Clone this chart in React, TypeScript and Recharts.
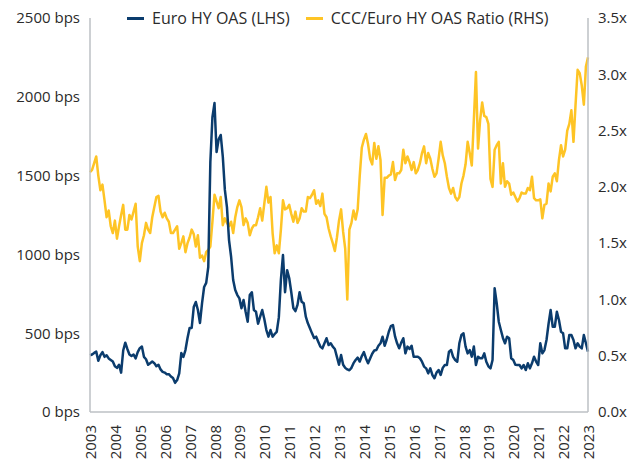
import { LineChart, Line, XAxis, YAxis } from 'recharts';

const FONT = '"Open Sans", sans-serif';
const BLUE = '#0b3c6d';
const YELLOW = '#fec425';
const AXIS_GREY = '#bcc0c4';

// monthly, Jan 2003 -> Jan 2023
const START_YEAR = 2003;

const euroHyOas = [
  360, 365, 375, 383, 325, 360, 380, 350, 360, 340,
  330, 320, 290, 280, 300, 250, 390, 440, 400, 365,
  355, 365, 340, 380, 405, 415, 350, 335, 300, 310,
  320, 310, 290, 300, 270, 255, 250, 240, 240, 225,
  215, 185, 203, 245, 374, 349, 393, 469, 533, 533,
  666, 698, 647, 565, 691, 793, 819, 920, 1586, 1870,
  1960, 1650, 1730, 1758, 1620, 1409, 1300, 1091, 985, 837,
  774, 742, 721, 658, 711, 636, 573, 742, 760, 647,
  636, 560, 605, 647, 590, 520, 478, 520, 478, 495,
  509, 600, 840, 996, 760, 900, 850, 760, 660, 640,
  680, 760, 700, 690, 605, 563, 531, 499, 469, 478,
  446, 415, 404, 436, 468, 425, 436, 415, 400, 350,
  300, 362, 300, 280, 270, 265, 280, 310, 330, 345,
  320, 355, 380, 340, 309, 340, 370, 390, 393, 420,
  436, 478, 420, 460, 509, 545, 552, 480, 436, 404,
  440, 468, 372, 415, 400, 420, 351, 351, 351, 341,
  319, 288, 277, 245, 277, 235, 214, 250, 266, 235,
  280, 298, 298, 383, 393, 350, 330, 319, 436, 489,
  499, 415, 372, 393, 351, 415, 298, 351, 341, 341,
  372, 319, 290, 277, 330, 785, 690, 573, 520, 470,
  436, 478, 468, 341, 330, 300, 298, 298, 277, 298,
  266, 309, 277, 309, 351, 320, 298, 436, 372, 393,
  457, 560, 647, 541, 541, 636, 584, 509, 499, 404,
  404, 489, 489, 457, 404, 436, 415, 404, 489, 436, 383,
];

const cccRatio = [
  2.13, 2.15, 2.21, 2.27, 2.10, 1.97, 2.02, 1.88, 1.73, 1.79,
  1.65, 1.59, 1.70, 1.54, 1.65, 1.75, 1.84, 1.62, 1.62, 1.75,
  1.71, 1.78, 1.85, 1.47, 1.34, 1.50, 1.57, 1.68, 1.62, 1.59,
  1.73, 1.82, 1.91, 1.92, 1.78, 1.73, 1.77, 1.72, 1.69, 1.59,
  1.59, 1.62, 1.65, 1.45, 1.50, 1.56, 1.42, 1.50, 1.55, 1.62,
  1.58, 1.47, 1.57, 1.37, 1.39, 1.34, 1.42, 1.44, 1.47, 1.69,
  1.93, 1.87, 1.81, 1.91, 1.66, 1.72, 1.68, 1.65, 1.69, 1.59,
  1.73, 1.82, 1.88, 1.82, 1.66, 1.72, 1.68, 1.57, 1.63, 1.66,
  1.66, 1.73, 1.81, 1.70, 1.85, 2.00, 1.86, 1.91, 1.59, 1.41,
  1.48, 1.41, 1.62, 1.88, 1.80, 1.81, 1.84, 1.76, 1.69, 1.78,
  1.68, 1.72, 1.81, 1.78, 1.78, 1.91, 1.90, 1.93, 1.97, 1.85,
  1.88, 1.83, 1.94, 1.76, 1.73, 1.63, 1.56, 1.50, 1.43, 1.55,
  1.70, 1.80, 1.60, 1.45, 1.00, 1.62, 1.68, 1.79, 1.71, 1.80,
  2.10, 2.35, 2.42, 2.47, 2.38, 2.25, 2.20, 2.39, 2.25, 2.36,
  2.24, 1.75, 2.08, 2.08, 2.10, 2.11, 2.22, 2.06, 2.12, 2.12,
  2.15, 2.33, 2.21, 2.27, 2.22, 2.15, 2.22, 2.12, 2.15, 2.21,
  2.30, 2.36, 2.21, 2.30, 2.25, 2.16, 2.09, 2.12, 2.25, 2.40,
  2.28, 2.21, 2.09, 1.99, 1.94, 1.99, 1.91, 1.88, 1.91, 2.03,
  2.10, 2.20, 2.40, 2.30, 2.19, 2.60, 3.02, 2.34, 2.59, 2.75,
  2.63, 2.62, 2.56, 2.07, 2.00, 2.33, 2.37, 2.40, 2.03, 2.21,
  2.00, 2.05, 2.03, 1.93, 1.95, 1.91, 1.87, 1.90, 1.95, 1.94,
  1.94, 1.99, 1.97, 2.09, 1.90, 1.88, 1.88, 1.89, 1.72, 1.84,
  1.85, 2.03, 1.96, 2.09, 2.12, 2.05, 2.24, 2.37, 2.27, 2.33,
  2.50, 2.56, 2.68, 2.40, 2.73, 3.04, 3.01, 2.90, 2.73, 3.07, 3.15,
];

const yearTicks = [
  2003, 2004, 2005, 2006, 2007, 2008, 2009, 2010, 2011, 2012, 2013,
  2014, 2015, 2016, 2017, 2018, 2019, 2020, 2021, 2022, 2023,
];
const bpsTicks = [0, 500, 1000, 1500, 2000, 2500];
const ratioTicks = [0, 0.5, 1, 1.5, 2, 2.5, 3, 3.5];

const seriesNames = ['Euro HY OAS (LHS)', 'CCC/Euro HY OAS Ratio (RHS)'];

const data = euroHyOas.map((oas, i) => ({
  t: START_YEAR + i / 12,
  oas,
  ratio: cccRatio[i],
}));

function YearTick({ x, y, payload }: any) {
  return (
    <text
      transform={`translate(${x},${y}) rotate(-90)`}
      x={-5}
      textAnchor="end"
      dominantBaseline="central"
      fill="#2b2b2b"
      fontSize={15}
      fontFamily={FONT}
    >
      {payload.value}
    </text>
  );
}

function ChartLegend() {
  const colors = [BLUE, YELLOW];
  return (
    <div
      style={{
        position: 'absolute',
        left: 127,
        top: 7,
        display: 'flex',
        gap: 16,
        fontFamily: FONT,
        fontSize: 16,
        color: '#2b2b2b',
        lineHeight: '22px',
      }}
    >
      {seriesNames.map((name, i) => (
        <div key={name} style={{ display: 'flex', alignItems: 'center', gap: 8 }}>
          <div style={{ width: 17, height: 3, backgroundColor: colors[i] }} />
          <span>{name}</span>
        </div>
      ))}
    </div>
  );
}

export default function App() {
  const tickStyle = { fill: '#2b2b2b', fontSize: 15, fontFamily: FONT };
  return (
    <div style={{ position: 'absolute', left: 0, top: 0, width: 642, height: 463, background: '#fff' }}>
      <LineChart width={642} height={463} data={data} margin={{ top: 18, right: 0, bottom: 0, left: 0 }}>
        <XAxis
          dataKey="t"
          type="number"
          domain={[2003, 2023]}
          ticks={yearTicks}
          interval={0}
          height={51}
          tickLine={false}
          axisLine={{ stroke: AXIS_GREY, strokeWidth: 1.5 }}
          tick={<YearTick />}
        />
        <YAxis
          yAxisId="bps"
          domain={[0, 2500]}
          ticks={bpsTicks}
          width={90}
          tickLine={false}
          tickMargin={4}
          axisLine={{ stroke: AXIS_GREY, strokeWidth: 1.5 }}
          tick={tickStyle}
          tickFormatter={(v) => `${v} bps`}
        />
        <YAxis
          yAxisId="ratio"
          orientation="right"
          domain={[0, 3.5]}
          ticks={ratioTicks}
          width={54}
          tickLine={false}
          tickMargin={4}
          axisLine={{ stroke: AXIS_GREY, strokeWidth: 1.5 }}
          tick={tickStyle}
          tickFormatter={(v) => `${Number(v).toFixed(1)}x`}
        />
        <Line
          yAxisId="ratio"
          dataKey="ratio"
          stroke={YELLOW}
          strokeWidth={2.5}
          dot={false}
          strokeLinejoin="round"
          isAnimationActive={false}
        />
        <Line
          yAxisId="bps"
          dataKey="oas"
          stroke={BLUE}
          strokeWidth={2.5}
          dot={false}
          strokeLinejoin="round"
          isAnimationActive={false}
        />
      </LineChart>
      <ChartLegend />
    </div>
  );
}
